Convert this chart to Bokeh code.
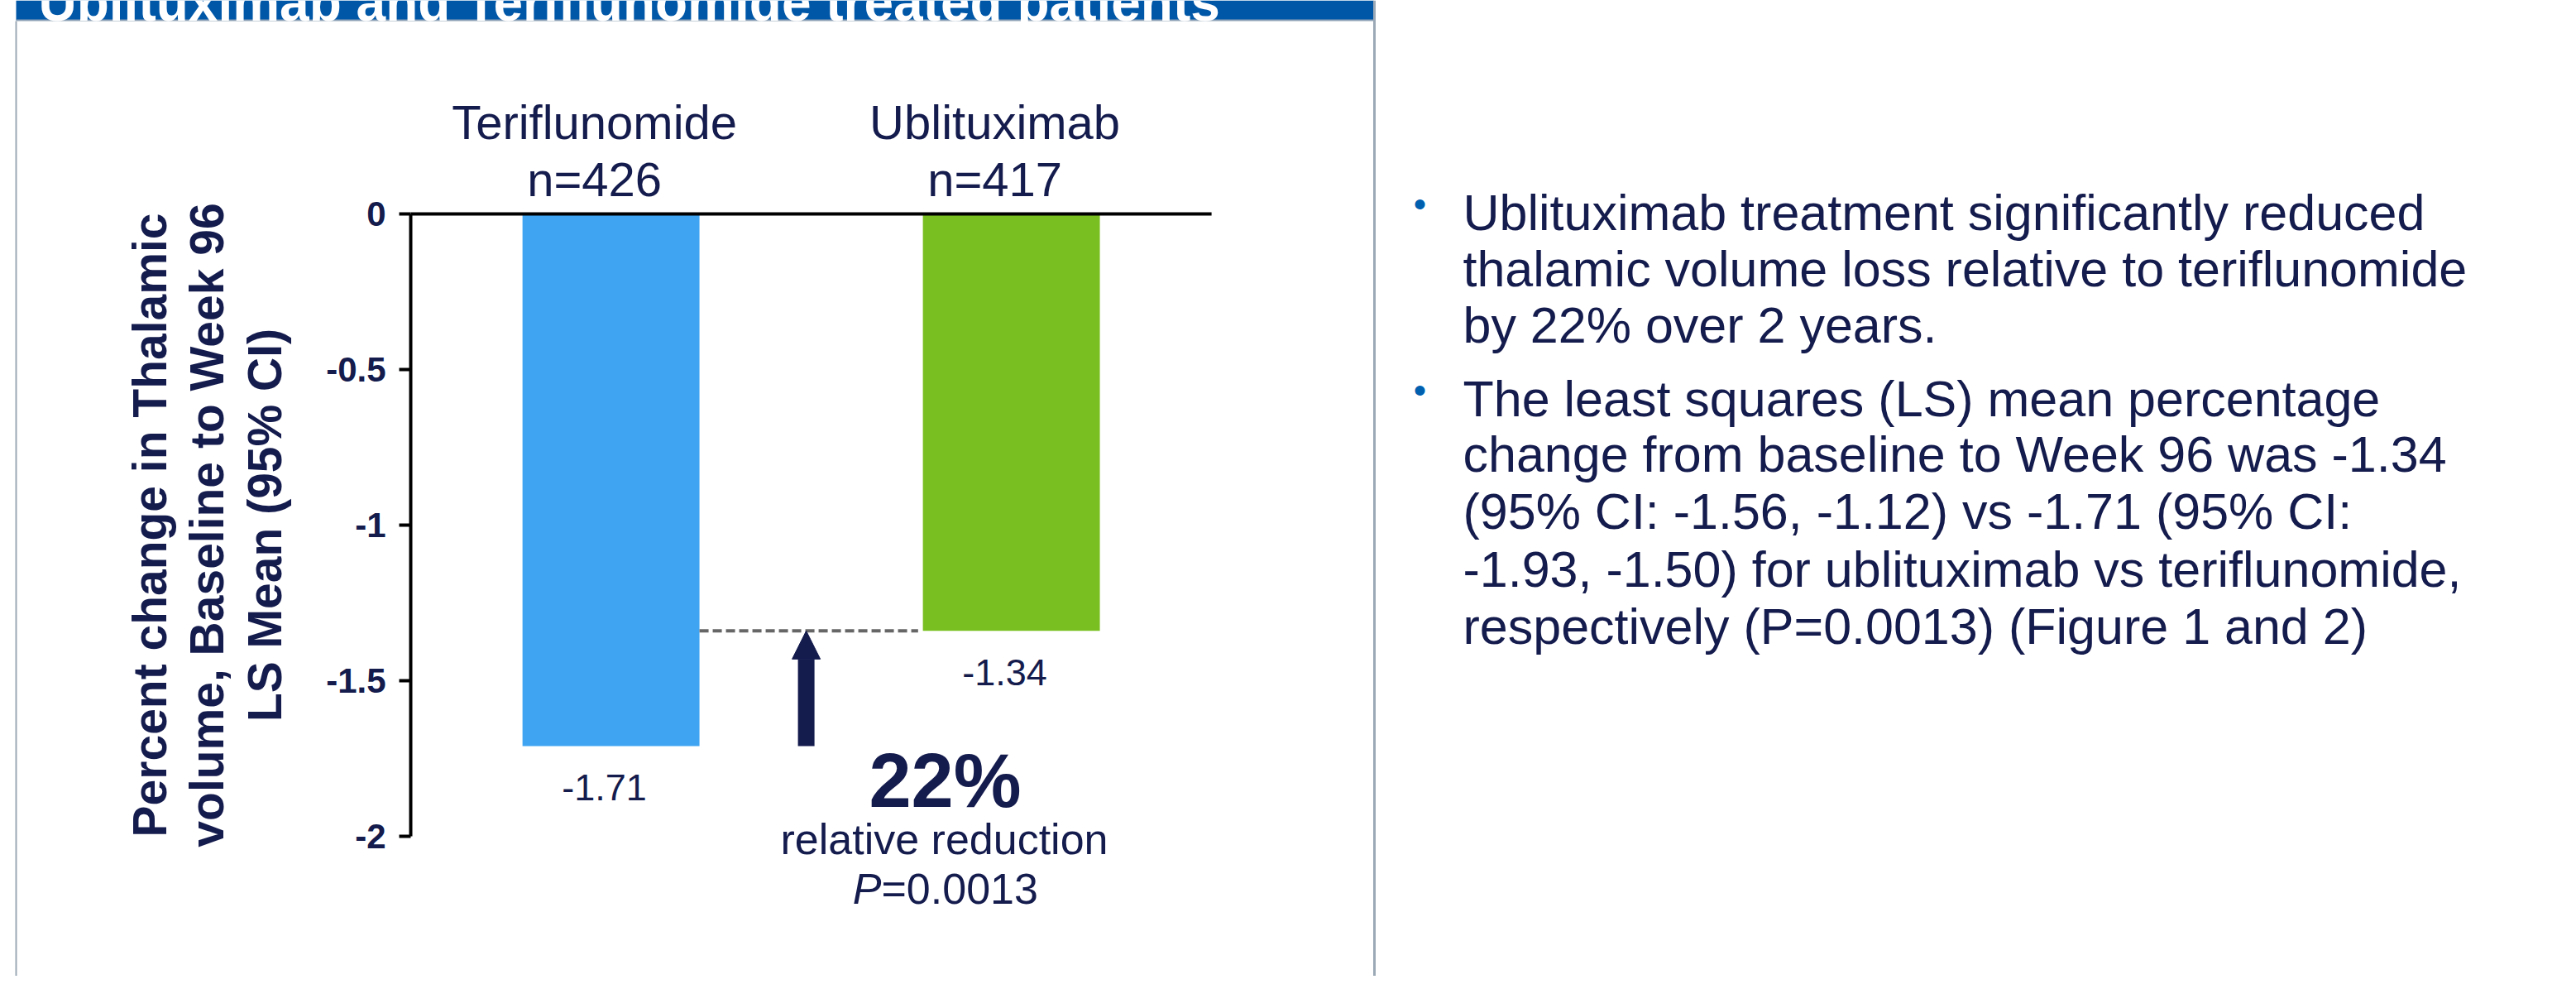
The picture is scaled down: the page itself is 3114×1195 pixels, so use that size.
from bokeh.plotting import figure
from bokeh.models import Range1d, FixedTicker, Arrow, NormalHead, ColumnDataSource
from bokeh.core.properties import value
from bokeh.embed import file_html
from bokeh.resources import INLINE

# ---------------- data ----------------
categories = ["Teriflunomide", "Ublituximab"]
n_labels = ["n=426", "n=417"]
ls_means = [-1.71, -1.34]
value_labels = ["-1.71", "-1.34"]
bar_colors = ["#3FA5F2", "#7ABF22"]
y_ticks = [0, -0.5, -1, -1.5, -2]
y_tick_labels = ["0", "-0.5", "-1", "-1.5", "-2"]
relative_reduction = "22%"
reduction_caption = "relative reduction"
p_value = "=0.0013"
banner_title = "Ublituximab and Teriflunomide treated patients"
y_title = ["Percent change in Thalamic", "volume, Baseline to Week 96", "LS Mean (95% CI)"]
bullet_paragraphs = [
    ["Ublituximab treatment significantly reduced",
     "thalamic volume loss relative to teriflunomide",
     "by 22% over 2 years."],
    ["The least squares (LS) mean percentage",
     "change from baseline to Week 96 was -1.34",
     "(95% CI: -1.56, -1.12) vs -1.71 (95% CI:",
     "-1.93, -1.50) for ublituximab vs teriflunomide,",
     "respectively (P=0.0013) (Figure 1 and 2)"],
]

# ---------------- layout ----------------
W, H = 3098, 1179
PX_X, PX_Y = 484.0, 376.0
X_START = -1.025
X_END = X_START + W / PX_X
Y_END = 258.0 / PX_Y
Y_START = Y_END - H / PX_Y
BAR_W = 0.442

NAVY = "#141B4D"
FONT = "Liberation Sans"


def X(px):
    return X_START + (px - 8) / PX_X


def Y(py):
    return Y_END - (py - 8) / PX_Y


p = figure(width=W, height=H, title=None,
           x_range=Range1d(X_START, X_END), y_range=Range1d(Y_START, Y_END),
           x_axis_location=None, y_axis_location="left",
           output_backend="svg", toolbar_location=None, min_border=0)
p.outline_line_color = None
p.grid.visible = False
p.background_fill_color = "white"
p.border_fill_color = "white"

# ---------------- frame / banner ----------------
p.quad(left=X(27), right=X(1668), top=Y_END, bottom=Y(32), fill_color="#0057A8", line_color=None)
p.segment(x0=X(27), y0=Y(32), x1=X(1668), y1=Y(32), line_color="#8FA3B8", line_width=2)
p.text(x=X(54), y=Y(10), text=[banner_title], text_color="white", text_font=value(FONT),
       text_font_size="64px", text_font_style="bold", text_align="left", text_baseline="alphabetic")
p.segment(x0=X(27), y0=Y(33), x1=X(27), y1=Y_START, line_color="#9BA9B6", line_width=2)
p.segment(x0=X(1669), y0=Y_END, x1=X(1669), y1=Y_START, line_color="#9BA9B6", line_width=3)

# ---------------- bars ----------------
xs = [i + 0.5 for i in range(len(categories))]
src = ColumnDataSource(dict(x=xs, v=ls_means, c=bar_colors, lab=value_labels,
                            cat=categories, n=n_labels))
p.vbar(x="x", top=0, bottom="v", width=BAR_W, fill_color="c", line_color=None, source=src)

# zero baseline
p.segment(x0=0, y0=0, x1=len(categories), y1=0, line_color="black", line_width=4)

# value labels
p.text(x="x", y="v", text="lab", source=src, x_offset=-8, y_offset=50,
       text_font=value(FONT), text_font_size="45px", text_color=NAVY,
       text_align="center", text_baseline="alphabetic")

# category labels
p.text(x="x", y=Y(155), text="cat", source=src, x_offset=-20,
       text_font=value(FONT), text_font_size="58px", text_color=NAVY,
       text_align="center", text_baseline="alphabetic")
p.text(x="x", y=Y(224), text="n", source=src, x_offset=-20,
       text_font=value(FONT), text_font_size="58px", text_color=NAVY,
       text_align="center", text_baseline="alphabetic")

# dashed reference line at ublituximab level
p.segment(x0=xs[0] + BAR_W / 2, y0=ls_means[1], x1=xs[1] - BAR_W / 2 - 0.012, y1=ls_means[1],
          line_color="#666666", line_width=4, line_dash="11 5")

# arrow from teriflunomide level up to ublituximab level
arrow_x = (xs[0] + xs[1]) / 2 - 6 / PX_X
p.add_layout(Arrow(end=NormalHead(size=34, fill_color=NAVY, line_color=NAVY, line_width=1),
                   x_start=arrow_x, y_start=ls_means[0], x_end=arrow_x, y_end=ls_means[1],
                   line_color=NAVY, line_width=20))

# relative reduction annotation
p.text(x=X(1150), y=Y(950), text=[relative_reduction], text_font=value(FONT),
       text_font_size="92px", text_font_style="bold", text_color=NAVY,
       text_align="center", text_baseline="alphabetic")
p.text(x=X(1149), y=Y(1021), text=[reduction_caption], text_font=value(FONT),
       text_font_size="52px", text_color=NAVY, text_align="center", text_baseline="alphabetic")
p.text(x=X(1073), y=Y(1081), text=["P"], text_font=value(FONT),
       text_font_size="52px", text_font_style="italic", text_color=NAVY,
       text_align="right", text_baseline="alphabetic")
p.text(x=X(1073), y=Y(1081), text=[p_value], text_font=value(FONT),
       text_font_size="52px", text_color=NAVY, text_align="left", text_baseline="alphabetic")

# ---------------- y axis ----------------
ax = p.yaxis[0]
ax.fixed_location = 0
ax.bounds = (-2, 0)
ax.ticker = FixedTicker(ticks=y_ticks)
ax.major_label_overrides = dict(zip(y_ticks, y_tick_labels))
ax.minor_tick_line_color = None
ax.major_tick_in = 0
ax.major_tick_out = 14
ax.major_tick_line_width = 4
ax.major_tick_line_color = "black"
ax.axis_line_width = 4
ax.axis_line_color = "black"
ax.major_label_text_font = FONT
ax.major_label_text_font_size = "42px"
ax.major_label_text_font_style = "bold"
ax.major_label_text_color = NAVY
ax.major_label_standoff = 16
ax.axis_label = "\n".join(y_title)
ax.axis_label_text_font = FONT
ax.axis_label_text_font_size = "57px"
ax.axis_label_text_font_style = "bold"
ax.axis_label_text_color = NAVY
ax.axis_label_text_line_height = 1.09
ax.axis_label_standoff = 39

# ---------------- right-hand bullet text ----------------
line_baselines = [[264, 332, 400], [489, 556, 625, 695, 764]]
for para, bases in zip(bullet_paragraphs, line_baselines):
    p.text(x=X(1724), y=Y(bases[0] - 10), text=["\u2022"], text_font=value(FONT),
           text_font_size="44px", text_color="#0060B0", text_align="center",
           text_baseline="alphabetic")
    p.text(x=[X(1776)] * len(para), y=[Y(b) for b in bases], text=para,
           text_font=value(FONT), text_font_size="61px", text_color=NAVY,
           text_align="left", text_baseline="alphabetic")

open("out.html", "w").write(file_html(p, INLINE))
